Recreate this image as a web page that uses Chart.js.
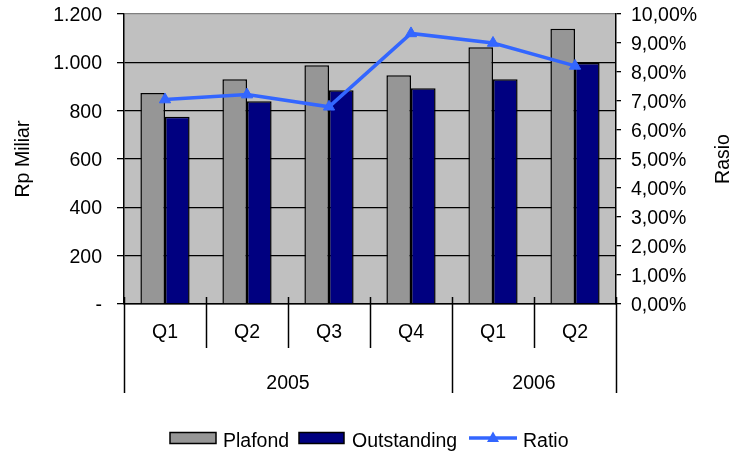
<!DOCTYPE html>
<html>
<head>
<meta charset="utf-8">
<script src="https://cdn.jsdelivr.net/npm/chart.js@4.4.1/dist/chart.umd.min.js"></script>
<style>
  html, body { margin: 0; padding: 0; background: #fff; }
  #wrap { width: 731px; height: 453px; }
</style>
</head>
<body>
<div id="wrap"><canvas id="chart" width="731" height="453"></canvas></div>
<script>
// data
const quarters = ['Q1', 'Q2', 'Q3', 'Q4', 'Q1', 'Q2'];
const years = ['2005', '2006'];
const yearSpans = [4, 2];
const plafond = [873, 930, 988, 947, 1062, 1139];
const outstanding = [775, 839, 884, 893, 930, 997];
const ratio = [7.05, 7.22, 6.80, 9.33, 9.00, 8.21];
const leftTicks = ['-', '200', '400', '600', '800', '1.000', '1.200'];
const rightTicks = ['0,00%', '1,00%', '2,00%', '3,00%', '4,00%', '5,00%', '6,00%', '7,00%', '8,00%', '9,00%', '10,00%'];

const FONT = 'Liberation Sans, Arial, sans-serif';
const FSIZE = 19.5;
const BLUE = '#3366FF';

const decor = {
  id: 'decor',
  beforeDraw(chart) {
    const { ctx, chartArea: a } = chart;
    ctx.save();
    ctx.fillStyle = '#C0C0C0';
    ctx.fillRect(a.left, a.top, a.right - a.left, a.bottom - a.top);
    ctx.restore();
  },
  afterDraw(chart) {
    const { ctx, chartArea: a } = chart;
    const x = chart.scales.x;
    const half = (x.getPixelForValue(1) - x.getPixelForValue(0)) / 2;

    ctx.save();
    ctx.strokeStyle = '#000';
    ctx.lineWidth = 1.5;

    // separators under the category axis
    const yearEnds = [];
    let acc = 0;
    yearSpans.forEach(s => { acc += s; yearEnds.push(acc); });
    for (let i = 0; i <= quarters.length; i++) {
      const px = Math.round(x.getPixelForValue(i) - half) + 0.5;
      const isYear = i === 0 || yearEnds.includes(i);
      ctx.beginPath();
      ctx.moveTo(px, a.bottom - 7);
      ctx.lineTo(px, isYear ? 393 : 348);
      ctx.stroke();
    }

    // year labels
    ctx.fillStyle = '#000';
    ctx.font = FSIZE + 'px ' + FONT;
    ctx.textAlign = 'center';
    ctx.textBaseline = 'alphabetic';
    let start = 0;
    years.forEach((y, i) => {
      const end = start + yearSpans[i];
      const cx = (x.getPixelForValue(start) + x.getPixelForValue(end - 1)) / 2;
      ctx.fillText(y, cx, 388.7);
      start = end;
    });

    // axis titles
    const midY = (a.top + a.bottom) / 2;
    [['Rp Miliar', 28.8], ['Rasio', 729]].forEach(([t, tx]) => {
      ctx.save();
      ctx.translate(tx, midY);
      ctx.rotate(-Math.PI / 2);
      ctx.fillText(t, 0, 0);
      ctx.restore();
    });

    // legend
    const ds = chart.data.datasets;
    ctx.textAlign = 'left';
    ctx.lineWidth = 1.5;
    ctx.fillStyle = ds[1].backgroundColor;
    ctx.fillRect(170, 432.5, 46, 11);
    ctx.strokeRect(170, 432.5, 46, 11);
    ctx.fillStyle = ds[2].backgroundColor;
    ctx.fillRect(299, 432.5, 45, 11);
    ctx.strokeRect(299, 432.5, 45, 11);

    ctx.strokeStyle = BLUE;
    ctx.lineWidth = 3.5;
    ctx.beginPath();
    ctx.moveTo(469, 438);
    ctx.lineTo(517, 438);
    ctx.stroke();
    ctx.fillStyle = BLUE;
    ctx.beginPath();
    ctx.moveTo(493, 438 - 6.5);
    ctx.lineTo(493 + 6, 438 + 4);
    ctx.lineTo(493 - 6, 438 + 4);
    ctx.closePath();
    ctx.fill();

    ctx.fillStyle = '#000';
    ctx.fillText(ds[1].label, 223, 446.5);
    ctx.fillText(ds[2].label, 352, 446.5);
    ctx.fillText(ds[0].label, 523, 446.5);
    ctx.restore();
  }
};

new Chart(document.getElementById('chart'), {
  data: {
    labels: quarters,
    datasets: [
      {
        type: 'line',
        label: 'Ratio',
        data: ratio,
        yAxisID: 'y1',
        order: 0,
        borderColor: BLUE,
        backgroundColor: BLUE,
        borderWidth: 3.5,
        tension: 0,
        pointStyle: 'triangle',
        pointRadius: 6.5,
        pointBorderWidth: 1,
        pointBackgroundColor: BLUE,
        pointBorderColor: BLUE
      },
      {
        type: 'bar',
        label: 'Plafond',
        data: plafond,
        yAxisID: 'y',
        order: 1,
        backgroundColor: '#969696',
        borderColor: '#000',
        borderWidth: 1.5,
        categoryPercentage: 0.6,
        barPercentage: 1.0
      },
      {
        type: 'bar',
        label: 'Outstanding',
        data: outstanding,
        yAxisID: 'y',
        order: 1,
        backgroundColor: '#000080',
        borderColor: '#000',
        borderWidth: 1.5,
        categoryPercentage: 0.6,
        barPercentage: 1.0
      }
    ]
  },
  options: {
    responsive: false,
    animation: false,
    layout: { padding: { top: 14, left: 0, right: 0, bottom: 0 } },
    plugins: {
      legend: { display: false },
      tooltip: { enabled: false }
    },
    scales: {
      x: {
        offset: true,
        grid: { display: false, drawTicks: false },
        border: { display: true, color: '#000', width: 1.5 },
        ticks: { color: '#000', font: { family: FONT, size: FSIZE }, padding: 17, maxRotation: 0 },
        afterFit: s => { s.height = 149; }
      },
      y: {
        position: 'left',
        min: 0,
        max: 1200,
        ticks: {
          stepSize: 200,
          color: '#000',
          padding: 15,
          labelOffset: 1.5,
          font: { family: FONT, size: FSIZE },
          callback: (v, i) => leftTicks[i]
        },
        grid: {
          color: c => (c.tick && c.tick.value === 1200 ? '#808080' : '#000'),
          tickColor: '#000',
          lineWidth: 1.3,
          tickLength: 7
        },
        border: { display: true, color: '#000', width: 1.5 },
        afterFit: s => { s.width = 124; s.paddingTop = 0; s.paddingBottom = 0; }
      },
      y1: {
        position: 'right',
        min: 0,
        max: 10,
        ticks: {
          stepSize: 1,
          color: '#000',
          padding: 10,
          labelOffset: 1.5,
          font: { family: FONT, size: FSIZE },
          callback: (v, i) => rightTicks[i]
        },
        grid: { drawOnChartArea: false, color: '#000', tickLength: 5, lineWidth: 1.3 },
        border: { display: true, color: '#000', width: 1.5 },
        afterFit: s => { s.width = 115; s.paddingTop = 0; s.paddingBottom = 0; }
      }
    }
  },
  plugins: [decor]
});
</script>
</body>
</html>
